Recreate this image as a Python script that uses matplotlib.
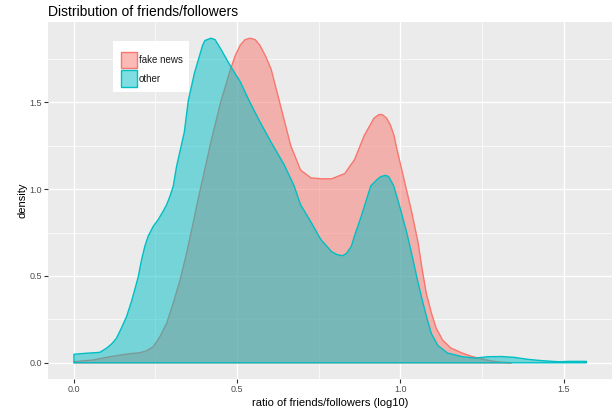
import matplotlib
matplotlib.use("Agg")
import matplotlib.pyplot as plt
from matplotlib.patches import Rectangle
from matplotlib.colors import to_rgba

# ---- data ----
fake_x = [0.001, 0.059, 0.111, 0.162, 0.203, 0.223, 0.244, 0.264, 0.285, 0.305,
          0.326, 0.346, 0.366, 0.382, 0.40, 0.42, 0.45, 0.48, 0.495, 0.51,
          0.525, 0.54, 0.556, 0.57, 0.587, 0.605, 0.635, 0.665, 0.695, 0.727,
          0.76, 0.79, 0.83, 0.86, 0.89, 0.92, 0.935, 0.945, 0.958, 0.97,
          0.981, 0.99, 1.01, 1.035, 1.055, 1.067, 1.08, 1.095, 1.11, 1.13,
          1.155, 1.19, 1.22, 1.25, 1.28, 1.31, 1.34]
fake_y = [0.006, 0.016, 0.035, 0.050, 0.058, 0.069, 0.093, 0.150, 0.228, 0.344,
          0.478, 0.633, 0.806, 0.95, 1.10, 1.27, 1.50, 1.69, 1.77, 1.83,
          1.862, 1.87, 1.862, 1.83, 1.77, 1.69, 1.47, 1.25, 1.11, 1.065,
          1.06, 1.06, 1.09, 1.17, 1.31, 1.41, 1.43, 1.43, 1.41, 1.37,
          1.31, 1.23, 1.07, 0.87, 0.69, 0.54, 0.40, 0.29, 0.20, 0.13,
          0.085, 0.056, 0.036, 0.022, 0.01, 0.003, 0.0]

other_x = [0.001, 0.04, 0.080, 0.100, 0.116, 0.131, 0.146, 0.162, 0.177, 0.187,
           0.198, 0.208, 0.218, 0.228, 0.244, 0.259, 0.274, 0.285, 0.295, 0.305,
           0.315, 0.339, 0.351, 0.37, 0.395, 0.402, 0.42, 0.433, 0.45, 0.48,
           0.51, 0.54, 0.57, 0.605, 0.645, 0.675, 0.695, 0.727, 0.757, 0.79,
           0.807, 0.823, 0.835, 0.85, 0.863, 0.88, 0.91, 0.93, 0.94, 0.955,
           0.965, 0.98, 1.00, 1.02, 1.035, 1.05, 1.065, 1.08, 1.095, 1.115,
           1.145, 1.19, 1.23, 1.27, 1.31, 1.35, 1.39, 1.435, 1.485, 1.515,
           1.57]
other_y = [0.049, 0.055, 0.060, 0.083, 0.108, 0.141, 0.199, 0.266, 0.353, 0.420,
           0.497, 0.594, 0.671, 0.729, 0.787, 0.825, 0.873, 0.912, 0.960, 1.018,
           1.13, 1.33, 1.51, 1.67, 1.83, 1.857, 1.87, 1.862, 1.81, 1.71,
           1.62, 1.50, 1.39, 1.27, 1.14, 1.02, 0.91, 0.81, 0.71, 0.64,
           0.623, 0.617, 0.629, 0.67, 0.748, 0.84, 1.02, 1.057, 1.072, 1.08,
           1.072, 1.02, 0.89, 0.75, 0.63, 0.50, 0.38, 0.27, 0.17, 0.10,
           0.056, 0.035, 0.027, 0.035, 0.036, 0.031, 0.02, 0.012, 0.006, 0.008,
           0.008]

series_labels = ["fake news", "other"]
series_colors = ["#F8766D", "#00BFC4"]
x_ticks = [0.0, 0.5, 1.0, 1.5]
y_ticks = [0.0, 0.5, 1.0, 1.5]
tick_labels = ["0.0", "0.5", "1.0", "1.5"]

plt.rcParams["font.family"] = ["Liberation Sans", "DejaVu Sans"]

W, H = 612, 416
fig = plt.figure(figsize=(W / 100, H / 100), dpi=100)
ax = fig.add_axes([48 / W, (H - 379) / H, (W - 48) / W, (379 - 22) / H])
ax.set_facecolor("#EBEBEB")
for s in ax.spines.values():
    s.set_visible(False)

# grid
ax.set_xticks(x_ticks)
ax.set_yticks(y_ticks)
ax.set_xticks([0.25, 0.75, 1.25], minor=True)
ax.set_yticks([0.25, 0.75, 1.25, 1.75], minor=True)
ax.grid(which="major", color="white", linewidth=1.0)
ax.grid(which="minor", color="white", linewidth=0.5)
ax.set_axisbelow(True)
ax.tick_params(which="minor", length=0)
ax.tick_params(which="major", length=2.6, width=0.8, color="#333333",
               labelcolor="#4D4D4D", labelsize=6.5, pad=1.5)
ax.set_xticklabels(tick_labels)
ax.set_yticklabels(tick_labels)

for xs, ys, c in [(fake_x, fake_y, series_colors[0]), (other_x, other_y, series_colors[1])]:
    ax.fill_between(xs, ys, 0, facecolor=c, alpha=0.5, edgecolor="none", zorder=2)
    ax.fill_between(xs, ys, 0, facecolor="none", edgecolor=c, linewidth=1.0,
                    joinstyle="round", zorder=2)

ax.set_xlim(-0.0785, 1.6485)
ax.set_ylim(-0.0935, 1.9635)

ax.set_xlabel("ratio of friends/followers (log10)", fontsize=8, color="black", labelpad=3)
ax.set_ylabel("density", fontsize=8, color="black", labelpad=2)
fig.text(48 / W, 1 - 12 / H, "Distribution of friends/followers", fontsize=10,
         ha="left", va="center", color="black")

# legend: white box + keys (drawn in pixel-based figure coordinates)
def fx(px):
    return px / W

def fy(py):
    return 1 - py / H

fig.patches.append(Rectangle((fx(113), fy(92)), 76 / W, 51 / H,
                             transform=fig.transFigure, facecolor="white",
                             edgecolor="none", zorder=5))
key_tops = [51.7, 70.0]
for top, lab, c in zip(key_tops, series_labels, series_colors):
    fig.patches.append(Rectangle((fx(121.2), fy(top + 16.5)), 15.8 / W, 16.5 / H,
                                 transform=fig.transFigure,
                                 facecolor=to_rgba(c, 0.5), edgecolor=c,
                                 linewidth=1.0, zorder=6))
    fig.text(fx(139), fy(top + 8.5), lab, fontsize=7, color="#1a1a1a",
             ha="left", va="center", zorder=7)

fig.savefig("out.png", dpi=100)
